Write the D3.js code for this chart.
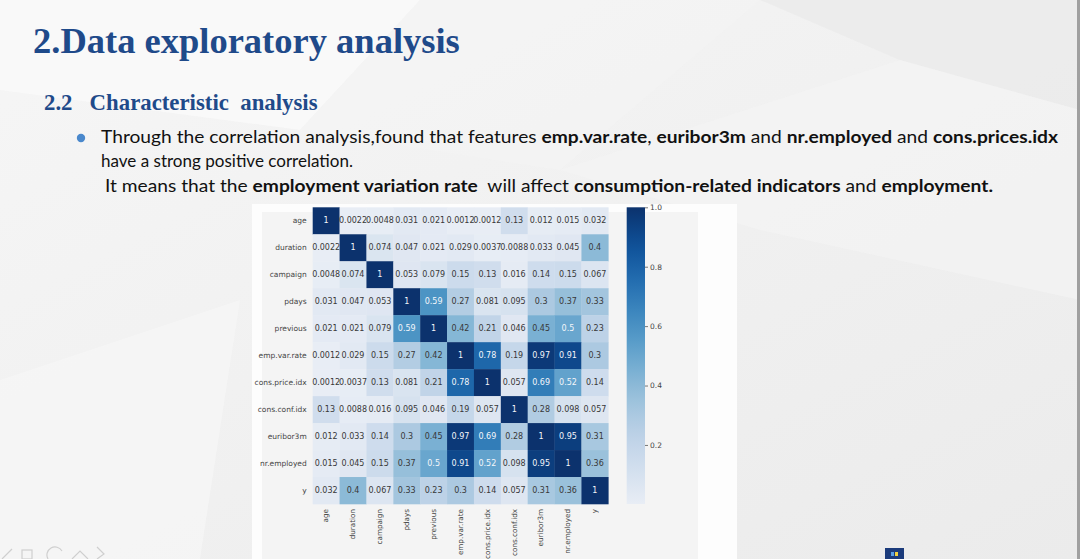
<!DOCTYPE html>
<html><head><meta charset="utf-8">
<script src="https://cdn.jsdelivr.net/npm/d3@7"></script>
<style>
body{margin:0;overflow:hidden;background:#efefef}
text{white-space:pre}
</style>
</head><body>
<svg id="c" width="1080" height="559" xmlns="http://www.w3.org/2000/svg"></svg>
<script>
// ---------- data ----------
const labels = ["age","duration","campaign","pdays","previous","emp.var.rate","cons.price.idx","cons.conf.idx","euribor3m","nr.employed","y"];
const rowAge        = [1, 0.0022, 0.0048, 0.031, 0.021, 0.0012, 0.0012, 0.13, 0.012, 0.015, 0.032];
const rowDuration   = [0.0022, 1, 0.074, 0.047, 0.021, 0.029, 0.0037, 0.0088, 0.033, 0.045, 0.4];
const rowCampaign   = [0.0048, 0.074, 1, 0.053, 0.079, 0.15, 0.13, 0.016, 0.14, 0.15, 0.067];
const rowPdays      = [0.031, 0.047, 0.053, 1, 0.59, 0.27, 0.081, 0.095, 0.3, 0.37, 0.33];
const rowPrevious   = [0.021, 0.021, 0.079, 0.59, 1, 0.42, 0.21, 0.046, 0.45, 0.5, 0.23];
const rowEmpVarRate = [0.0012, 0.029, 0.15, 0.27, 0.42, 1, 0.78, 0.19, 0.97, 0.91, 0.3];
const rowConsPrice  = [0.0012, 0.0037, 0.13, 0.081, 0.21, 0.78, 1, 0.057, 0.69, 0.52, 0.14];
const rowConsConf   = [0.13, 0.0088, 0.016, 0.095, 0.046, 0.19, 0.057, 1, 0.28, 0.098, 0.057];
const rowEuribor    = [0.012, 0.033, 0.14, 0.3, 0.45, 0.97, 0.69, 0.28, 1, 0.95, 0.31];
const rowNrEmployed = [0.015, 0.045, 0.15, 0.37, 0.5, 0.91, 0.52, 0.098, 0.95, 1, 0.36];
const rowY          = [0.032, 0.4, 0.067, 0.33, 0.23, 0.3, 0.14, 0.057, 0.31, 0.36, 1];
const matrix = [rowAge,rowDuration,rowCampaign,rowPdays,rowPrevious,rowEmpVarRate,rowConsPrice,rowConsConf,rowEuribor,rowNrEmployed,rowY];
const colorbarTicks = [0.2, 0.4, 0.6, 0.8, 1.0];

const titleText = "2.Data exploratory analysis";
const subtitleText = "2.2   Characteristic  analysis";
const line1 = [["Through the correlation analysis,found that features ",0],["emp.var.rate",1],[", ",0],["euribor3m",1],[" and ",0],["nr.employed",1],[" and ",0],["cons.prices.idx",1]];
const line2 = [["have a strong positive correlation.",0]];
const line3 = [[" It means that the ",0],["employment variation rate",1],["  will affect ",0],["consumption-related indicators",1],[" and ",0],["employment.",1]];

// ---------- drawing ----------
const svg = d3.select("#c");
const defs = svg.append("defs");

// slide background
const bg = defs.append("linearGradient").attr("id","bg").attr("x1","0").attr("y1","0").attr("x2","1").attr("y2","1");
bg.append("stop").attr("offset","0").attr("stop-color","#f6f6f6");
bg.append("stop").attr("offset","1").attr("stop-color","#ebebeb");
svg.append("rect").attr("width",1080).attr("height",559).attr("fill","url(#bg)");
const polys = [
  [[0,0],[420,0],[300,130],[0,90]],
  [[420,0],[760,0],[560,170],[300,130]],
  [[760,0],[1080,0],[1080,110],[900,60]],
  [[560,170],[900,60],[1080,110],[1080,300],[760,230]],
  [[0,380],[240,300],[200,559],[0,559]]
];
const polyFill = ["#fbfbfb","#f3f3f3","#e9e9e9","#f4f4f4","#f7f7f7"];
svg.selectAll("polygon.bgp").data(polys).join("polygon").attr("class","bgp")
  .attr("points",d=>d.map(p=>p.join(",")).join(" "))
  .attr("fill",(d,i)=>polyFill[i]).attr("opacity",0.7);
svg.append("rect").attr("x",1077).attr("y",0).attr("width",3).attr("height",559).attr("fill","#a0a0a0");

// title & subtitle
svg.append("text").attr("x",33).attr("y",53).text(titleText)
  .attr("font-family","'Liberation Serif','Times New Roman',serif").attr("font-weight","bold")
  .attr("font-size",36.5).attr("fill","#1f4a8a");
svg.append("text").attr("x",44).attr("y",110).text(subtitleText)
  .attr("font-family","'Liberation Serif','Times New Roman',serif").attr("font-weight","bold")
  .attr("font-size",22.8).attr("fill","#1f4a8a");

// bullet and body text
svg.append("circle").attr("cx",81).attr("cy",138).attr("r",4.2).attr("fill","#4a88cc");
function bodyLine(parts, x, y, w){
  const t = svg.append("text").attr("x",x).attr("y",y)
    .attr("font-family","Lato,'Noto Sans',sans-serif").attr("font-size",17.5).attr("fill","#111")
    .attr("textLength",w).attr("lengthAdjust","spacingAndGlyphs");
  parts.forEach(p=>t.append("tspan").attr("font-weight",p[1]?"bold":"normal").text(p[0]));
}
bodyLine(line1, 101, 143, 957);
bodyLine(line2, 101, 167, 252);
bodyLine(line3, 100, 192, 893);

// heatmap figure panel
svg.append("rect").attr("x",252).attr("y",204).attr("width",485).attr("height",355).attr("fill","#fdfdfd");
svg.append("rect").attr("x",262).attr("y",212).attr("width",436).attr("height",347).attr("fill","#f4f4f4");

const x = d3.scaleBand().domain(labels).range([312.7,608.3]);
const y = d3.scaleBand().domain(labels).range([207.3,504]);
const allVals = matrix.flat();
const vmin = d3.min(allVals), vmax = d3.max(allVals);
const blues = d3.scaleSequential(d3.interpolateBlues).domain([vmin, vmax]);
const color = v => d3.interpolateRgb(blues(v), "#3a4a80")(0.08);
const fmt = d3.format(".2~g");

const cells = [];
matrix.forEach((row,i)=>row.forEach((v,j)=>cells.push({r:labels[i],c:labels[j],v})));
const g = svg.append("g");
g.selectAll("rect.cell").data(cells).join("rect").attr("class","cell")
  .attr("x",d=>x(d.c)).attr("y",d=>y(d.r))
  .attr("width",x.bandwidth()+0.3).attr("height",y.bandwidth()+0.3)
  .attr("fill",d=>color(d.v));
g.selectAll("text.ann").data(cells).join("text").attr("class","ann")
  .attr("x",d=>x(d.c)+x.bandwidth()/2).attr("y",d=>y(d.r)+y.bandwidth()/2)
  .attr("text-anchor","middle").attr("dominant-baseline","central")
  .attr("font-family","'DejaVu Sans',sans-serif").attr("font-size",8)
  .attr("fill",d=>d.v>=0.48?"#f4f6fa":"#383838")
  .text(d=>fmt(d.v));

const yAxis = svg.append("g").attr("transform",`translate(${x.range()[0]},0)`)
  .call(d3.axisLeft(y).tickSize(0).tickPadding(6));
yAxis.select(".domain").remove();
yAxis.selectAll("text").attr("font-family","'DejaVu Sans',sans-serif").attr("font-size",7.5).attr("fill","#444");

const xAxis = svg.append("g").attr("transform",`translate(0,${y.range()[1]})`)
  .call(d3.axisBottom(x).tickSize(0).tickPadding(5));
xAxis.select(".domain").remove();
xAxis.selectAll("text").attr("font-family","'DejaVu Sans',sans-serif").attr("font-size",7.2).attr("fill","#444")
  .attr("text-anchor","end").attr("dy","0.32em").attr("dx",0)
  .attr("transform","translate(0,5) rotate(-90)").attr("y",0).attr("x",0);

// colorbar
const cb = defs.append("linearGradient").attr("id","cbg").attr("x1","0").attr("y1","1").attr("x2","0").attr("y2","0");
d3.range(0,1.0001,0.05).forEach(t=>cb.append("stop").attr("offset",t).attr("stop-color",color(vmin+t*(vmax-vmin))));
const cbScale = d3.scaleLinear().domain([vmin,vmax]).range([504,207.3]);
svg.append("rect").attr("x",626.7).attr("y",207.3).attr("width",18.3).attr("height",504-207.3).attr("fill","url(#cbg)");
const cbAxis = svg.append("g").attr("transform","translate(645,0)")
  .call(d3.axisRight(cbScale).tickValues(colorbarTicks).tickFormat(d3.format(".1f")).tickSize(3).tickPadding(2));
cbAxis.select(".domain").remove();
cbAxis.selectAll("line").attr("stroke","#555").attr("stroke-width",0.8);
cbAxis.selectAll("text").attr("font-family","'DejaVu Sans',sans-serif").attr("font-size",7.5).attr("fill","#444");

// slide controls (bottom-left) and small icon
const ctl = svg.append("g").attr("fill","none").attr("stroke","#cfcfcf").attr("stroke-width",1.2);
ctl.append("path").attr("d","M2,559 L12,549");
ctl.append("rect").attr("x",22).attr("y",550).attr("width",10).attr("height",9);
ctl.append("path").attr("d","M48,559 A8,8 0 0 1 62,551");
ctl.append("path").attr("d","M72,559 L80,551 L88,559");
ctl.append("path").attr("d","M97,547 L104,554 L97,559");
svg.append("rect").attr("x",885).attr("y",548).attr("width",19).attr("height",11).attr("fill","#1b3b7b");
svg.append("rect").attr("x",891).attr("y",552).attr("width",3).attr("height",4).attr("fill","#5aa0e6");
svg.append("rect").attr("x",895).attr("y",552).attr("width",3).attr("height",4).attr("fill","#f0d040");
</script>
</body></html>
